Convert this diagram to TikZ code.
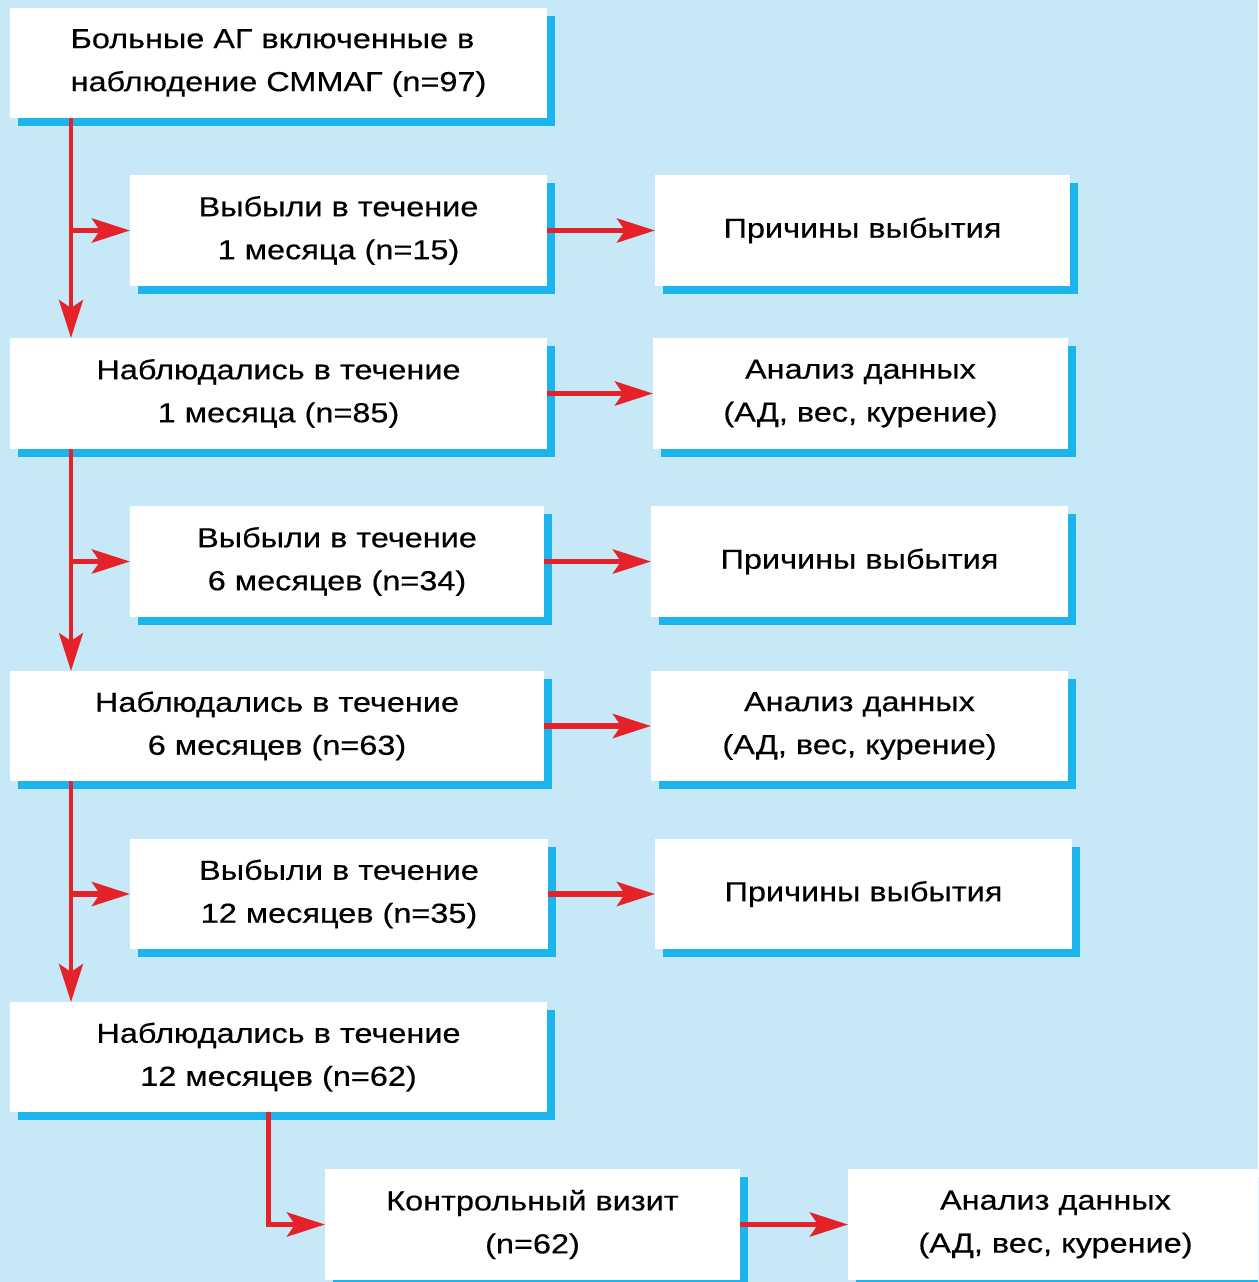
\documentclass[tikz,border=0pt]{standalone}
\usepackage{fontspec}
\setmainfont{Liberation Sans}[FakeStretch=1.18,FakeBold=0.4]
\usetikzlibrary{arrows.meta,shadows}
\definecolor{bgc}{HTML}{C6E8F7}
\definecolor{shc}{HTML}{1CB4EC}
\definecolor{redc}{HTML}{E52229}
\tikzset{
  box/.style={fill=white, inner sep=0pt, outer sep=0pt, align=center,
    font=\fontsize{27.5}{43}\selectfont,
    general shadow={fill=shc, shadow xshift=8pt, shadow yshift=-8pt}},
  arr/.style={draw=redc, line width=4pt, -{Stealth[length=38pt,width=24pt,inset=8pt]}, color=redc},
  harr/.style={arr, line width=5.5pt},
}
\begin{document}
\begin{tikzpicture}[x=1pt,y=-1pt]
\useasboundingbox (0,0) rectangle (1258,1282);
\fill[bgc] (0,0) rectangle (1258,1282);
\clip (0,0) rectangle (1258,1282);
\coordinate (t1) at (71,0);
\coordinate (t2) at (268,0);
\node[box, minimum width=537pt, minimum height=110pt, align=left] (n0) at (278.5,63) {Больные АГ включенные в\\наблюдение СММАГ (n=97)};
\node[box, minimum width=417pt, minimum height=111pt] (b1) at (338.5,230.5) {Выбыли в течение\\1 месяца (n=15)};
\node[box, minimum width=415pt, minimum height=111pt] (r1) at (862.5,230.5) {Причины выбытия};
\node[box, minimum width=537pt, minimum height=111pt] (o1) at (278.5,393.5) {Наблюдались в течение\\1 месяца (n=85)};
\node[box, minimum width=415pt, minimum height=111pt] (a1) at (860.5,393.5) {Анализ данных\\(АД, вес, курение)};
\node[box, minimum width=414pt, minimum height=111pt] (b2) at (337,561.5) {Выбыли в течение\\6 месяцев (n=34)};
\node[box, minimum width=417pt, minimum height=111pt] (r2) at (859.5,561.5) {Причины выбытия};
\node[box, minimum width=534pt, minimum height=110pt] (o2) at (277,726) {Наблюдались в течение\\6 месяцев (n=63)};
\node[box, minimum width=417pt, minimum height=110pt] (a2) at (859.5,726) {Анализ данных\\(АД, вес, курение)};
\node[box, minimum width=418pt, minimum height=110pt] (b3) at (339,894) {Выбыли в течение\\12 месяцев (n=35)};
\node[box, minimum width=417pt, minimum height=110pt] (r3) at (863.5,894) {Причины выбытия};
\node[box, minimum width=537pt, minimum height=110pt] (o3) at (278.5,1057) {Наблюдались в течение\\12 месяцев (n=62)};
\node[box, minimum width=415pt, minimum height=111pt] (k) at (532.5,1224.5) {Контрольный визит\\(n=62)};
\node[box, minimum width=415pt, minimum height=111pt] (af) at (1055.5,1224.5) {Анализ данных\\(АД, вес, курение)};
% trunks
\draw[arr] (n0.south -| t1) -- (o1.north -| t1);
\draw[harr] (b1.west -| t1) -- (b1.west);
\draw[arr] (o1.south -| t1) -- (o2.north -| t1);
\draw[harr] (b2.west -| t1) -- (b2.west);
\draw[arr] (o2.south -| t1) -- (o3.north -| t1);
\draw[harr] (b3.west -| t1) -- (b3.west);
\draw[arr, line width=5pt] (o3.south -| t2) |- (k.west);
% horizontals
\draw[harr] (b1.east) -- (r1.west);
\draw[harr] (o1.east) -- (a1.west);
\draw[harr] (b2.east) -- (r2.west);
\draw[harr] (o2.east) -- (a2.west);
\draw[harr] (b3.east) -- (r3.west);
\draw[harr] (k.east) -- (af.west);
\end{tikzpicture}
\end{document}
